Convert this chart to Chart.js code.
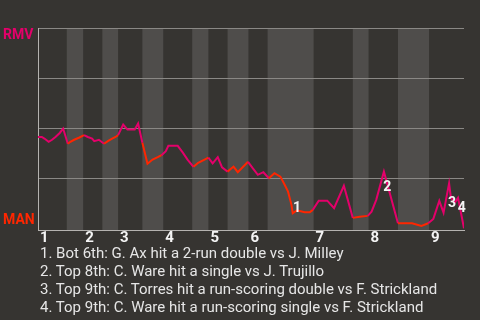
<!DOCTYPE html>
<html><head><meta charset="utf-8">
<script src="https://cdn.jsdelivr.net/npm/chart.js@4"></script>
<style>
html,body{margin:0;padding:0;background:#363431;width:480px;height:320px;overflow:hidden;font-family:Roboto,sans-serif}
#wrap{position:absolute;left:0;top:0;width:480px;height:250px}
#notes{position:absolute;left:40px;top:244px;color:#e6e6e6;font-size:15px;line-height:18px;white-space:nowrap}
</style></head><body>
<div id="wrap"><canvas id="c" width="480" height="250"></canvas></div>
<div id="notes"></div>
<script>
// Game progress (0 = first pitch, 100 = final out)
const progress = [0,0.9,1.5,2.5,3.3,4.1,5.1,5.9,7.0,7.6,
  8.5,9.6,10.8,11.7,12.7,13.2,14.3,15.5,16.4,17.4,
  18.2,18.8,20.0,21.0,22.7,23.5,24.5,25.7,26.9,28.1,
  29.0,30.0,30.6,32.8,34.0,35.1,36.5,37.6,39.1,40.0,
  41.0,42.2,43.2,44.5,45.9,46.9,49.3,50.4,51.6,52.9,
  54.2,55.5,56.9,57.9,58.7,59.5,59.8,60.8,62.6,63.8,
  64.5,65.9,67.9,69.5,71.8,73.9,75.5,77.4,78.3,79.4,
  81.2,84.5,87.8,90.0,91.6,92.8,94.2,95.2,96.5,96.9,
  97.8,98.6,100];
// RMV win probability (%)
const winProb = [45.6,45.6,44.8,43.2,44.2,45.6,47.6,49.8,42.2,43.2,
  44.2,45.2,46.5,45.6,44.8,43.5,44.2,42.2,43.5,44.8,
  45.6,46.5,51.8,49.3,49.3,52.3,42.7,32.2,34.3,35.5,
  36.5,38.5,41.2,41.2,37.8,34.3,30.7,32.7,34.3,35.3,
  32.4,35.5,30.4,28.3,30.8,28.0,33.2,30.0,26.7,28.0,
  25.0,27.5,25.8,21.7,18.3,11.7,7.5,9.0,8.0,8.0,
  9.2,13.8,13.8,10.0,21.2,5.2,5.8,6.2,8.3,14.2,
  28.3,2.5,2.5,1.2,2.5,4.7,13.7,7.8,22.4,15.7,
  12.7,15.2,0];
const inningStarts = [0,10.6,18.8,29.4,40.0,49.4,64.7,77.6,91.8];
const inningLabels = ['1','2','3','4','5','6','7','8','9'];
const bottomStarts = [6.75,15.1,24.5,36.2,44.5,53.9,73.9,84.5];
const gridValues = [25,50,75,100];
const teamTop = 'RMV';
const teamBottom = 'MAN';
const noteTexts = [
  '1. Bot 6th: G. Ax hit a 2-run double vs J. Milley',
  '2. Top 8th: C. Ware hit a single vs J. Trujillo',
  '3. Top 9th: C. Torres hit a run-scoring double vs F. Strickland',
  '4. Top 9th: C. Ware hit a run-scoring single vs F. Strickland'];
const noteMarkX = [60.8,82.0,97.2,99.5];
const noteMarkY = [9.7,20.4,12.2,9.9];

const PINK = '#e4006a', RED = '#ff2600', BAND = '#4f4d4b';

document.getElementById('notes').innerHTML = noteTexts.map(t=>'<div>'+t+'</div>').join('');

const bands = bottomStarts.map((s,i)=>[s, inningStarts[i+1] !== undefined ? inningStarts[i+1] : 100]);
function inBottom(x){ return bands.some(b => x >= b[0] && x < b[1]); }

const bandPlugin = {
  id:'bands',
  beforeDraw(chart){
    const {ctx, chartArea:a, scales:{x}} = chart;
    ctx.save();
    ctx.fillStyle = BAND;
    bands.forEach(b=>{
      const x0 = x.getPixelForValue(b[0]), x1 = x.getPixelForValue(b[1]);
      ctx.fillRect(x0, a.top, x1-x0, a.bottom-a.top);
    });
    ctx.restore();
  },
  afterDraw(chart){
    const {ctx, chartArea:a, scales:{x,y}} = chart;
    ctx.save();
    ctx.font = 'bold 14px Roboto';
    ctx.textAlign = 'left'; ctx.textBaseline = 'middle';
    ctx.fillStyle = PINK; ctx.fillText(teamTop, 3, a.top + 7);
    ctx.fillStyle = RED; ctx.fillText(teamBottom, 3, a.bottom - 10);
    ctx.fillStyle = '#f4f4f4';
    ctx.textAlign = 'center';
    noteMarkX.forEach((v,i)=>{
      ctx.fillText(String(i+1), x.getPixelForValue(v), y.getPixelForValue(noteMarkY[i]));
    });
    ctx.restore();
  }
};

new Chart(document.getElementById('c'), {
  type:'line',
  data:{datasets:[{
    data: progress.map((p,i)=>({x:p, y:winProb[i]})),
    borderColor: PINK, borderWidth: 2, pointRadius: 0, tension: 0,
    segment:{ borderColor: c => inBottom((c.p0.parsed.x + c.p1.parsed.x)/2) ? RED : PINK }
  }]},
  options:{
    responsive:false, animation:false, devicePixelRatio:1,
    layout:{padding:{left:38,right:16,top:28,bottom:0}},
    plugins:{legend:{display:false}, tooltip:{enabled:false}},
    scales:{
      x:{type:'linear', min:0, max:100,
        afterBuildTicks: s => { s.ticks = inningStarts.map(v=>({value:v})); },
        afterFit: s => { s.height = 20; },
        grid:{color:'rgba(0,0,0,0)', drawTicks:false},
        border:{display:true, color:'#b5b3b0', width:1},
        ticks:{autoSkip:false, maxRotation:0, align:'start', labelOffset:2, padding:-1,
          color:'#f4f4f4', font:{family:'Roboto', size:15, weight:'bold'},
          callback:(v,i)=>inningLabels[i]}
      },
      y:{type:'linear', min:-0.85, max:100,
        afterBuildTicks: s => { s.ticks = gridValues.map(v=>({value:v})); },
        afterFit: s => { s.width = 0; },
        grid:{color:'#8a8885', drawTicks:false},
        border:{display:true, color:'#b5b3b0', width:1},
        ticks:{display:false}
      }
    }
  },
  plugins:[bandPlugin]
});
</script>
</body></html>
